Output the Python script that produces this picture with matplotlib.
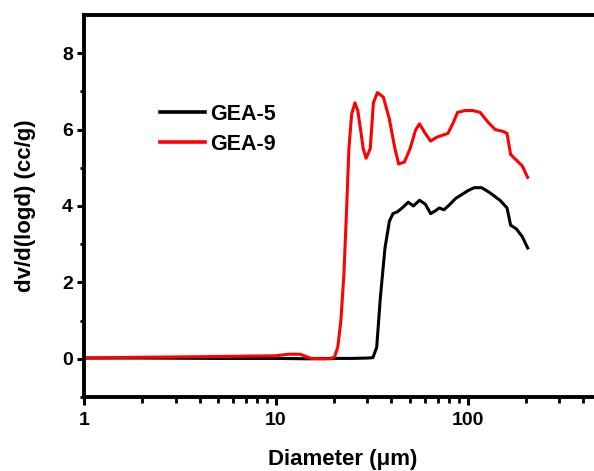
import matplotlib
matplotlib.use("Agg")
import matplotlib.pyplot as plt
from matplotlib.ticker import LogLocator, FixedLocator

plt.rcParams['font.family'] = ['Liberation Sans', 'DejaVu Sans']
plt.rcParams['font.weight'] = 'bold'

# GEA-5 pore size distribution
d_gea5 = [1, 2, 5, 10, 15, 20, 25, 30, 32, 33.5, 35, 37, 39, 40.7, 43, 45.5, 48.9, 52, 56, 60,
          64, 68, 71, 75, 79, 86.5, 93, 100, 108, 118, 130, 147, 160, 167, 179, 192, 205]
v_gea5 = [0.02, 0.02, 0.01, 0.01, 0.0, 0.01, 0.01, 0.02, 0.03, 0.3, 1.6, 2.9, 3.6, 3.8, 3.85, 3.95, 4.1, 4.0, 4.15, 4.05,
          3.8, 3.88, 3.95, 3.9, 4.0, 4.2, 4.3, 4.4, 4.48, 4.48, 4.35, 4.15, 3.95, 3.5, 3.4, 3.2, 2.9]

# GEA-9 pore size distribution
d_gea9 = [1, 2, 5, 10, 11.6, 13.4, 14.5, 15.3, 17, 19.2, 20.2, 21, 21.8, 22.6, 23.3, 24, 24.8, 25.8, 26.7, 27.6,
          28.5, 29.5, 31, 32.2, 33.8, 36.3, 38.9, 41.7, 43.6, 46.7, 50, 53.5, 56, 60, 64, 68.8, 73.5,
          78.7, 84.3, 88.3, 97, 106, 116, 127, 139, 153, 160, 167, 179, 192, 205]
v_gea9 = [0.02, 0.04, 0.06, 0.08, 0.12, 0.12, 0.05, 0.01, 0.0, 0.0, 0.05, 0.3, 1.0, 2.2, 3.8, 5.5, 6.4, 6.7, 6.5, 6.0,
          5.5, 5.25, 5.5, 6.7, 6.97, 6.85, 6.3, 5.5, 5.1, 5.15, 5.5, 6.0, 6.15, 5.9, 5.7, 5.8, 5.85,
          5.9, 6.2, 6.45, 6.5, 6.5, 6.45, 6.2, 6.0, 5.95, 5.9, 5.35, 5.2, 5.05, 4.75]

x_ticks = [1, 10, 100]
y_ticks = [0, 2, 4, 6, 8]

fig = plt.figure(figsize=(5.94, 4.71), dpi=100)
# right spine sits just past the picture edge, as in the cropped original
ax = fig.add_axes([84 / 594, 74 / 471, 518 / 594, 382 / 471])

ax.plot(d_gea5, v_gea5, color='black', lw=2.2, label='GEA-5')
ax.plot(d_gea9, v_gea9, color='#ff0000', lw=2.2, label='GEA-9')

ax.set_xscale('log')
ax.set_xlim(1, 500)
ax.set_ylim(-1, 9)

ax.yaxis.set_major_locator(FixedLocator(y_ticks))
ax.yaxis.set_minor_locator(FixedLocator([-1, 1, 3, 5, 7]))
ax.xaxis.set_major_locator(FixedLocator(x_ticks))
ax.xaxis.set_minor_locator(LogLocator(base=10, subs=range(2, 10)))
ax.xaxis.set_major_formatter(plt.FuncFormatter(lambda v, p: '%d' % v))

for s in ax.spines.values():
    s.set_linewidth(2.8)

ax.tick_params(axis='x', which='major', direction='out', length=6, width=2.2, labelsize=14, pad=5)
ax.tick_params(axis='x', which='minor', direction='out', length=4, width=2.0)
ax.tick_params(axis='y', which='major', direction='out', length=5, width=2.2, labelsize=14, pad=3)
ax.tick_params(axis='y', which='minor', direction='out', length=3, width=2.0)

ax.set_xlabel('Diameter (\u03bcm)', fontsize=16, fontweight='bold', labelpad=14)
ax.set_ylabel('dv/d(logd) (cc/g)', fontsize=16, fontweight='bold', labelpad=19)

leg = ax.legend(loc='upper left', bbox_to_anchor=(160 / 594, 1 - 104 / 471),
                bbox_transform=fig.transFigure, frameon=False, borderpad=0, borderaxespad=0,
                fontsize=15.5, handlelength=2.1, handletextpad=0.25, labelspacing=0.4)
for line in leg.get_lines():
    line.set_linewidth(2.6)

fig.savefig('out.png', dpi=100)
